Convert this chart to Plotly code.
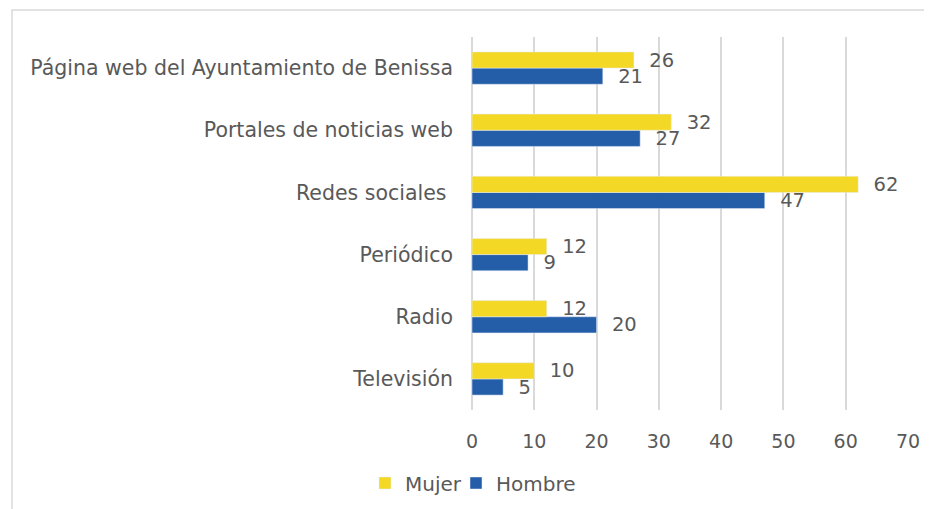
import plotly.graph_objects as go

categories = ["Página web del Ayuntamiento de Benissa", "Portales de noticias web",
              "Redes sociales ", "Periódico", "Radio", "Televisión"]
mujer = [26, 32, 62, 12, 12, 10]
hombre = [21, 27, 47, 9, 20, 5]
x_ticks = [0, 10, 20, 30, 40, 50, 60, 70]

YELLOW = "#F4D826"
BLUE = "#245EA8"
GRAY = "#595959"
FONT = "DejaVu Sans"

# page body has an 8px margin; compensate so picture matches window coordinates
OFF = 8
W, H = 932 - OFF, 509 - OFF
L, R, T, B = 472 - OFF, 908 - OFF, 37 - OFF, 410 - OFF

fig = go.Figure()
# Hombre first so it is drawn below Mujer within each group (horizontal bars)
fig.add_trace(go.Bar(
    y=categories, x=hombre, name="Hombre", orientation="h", legend="legend2",
    marker=dict(color=BLUE), text=hombre,
    texttemplate="\u00a0\u00a0%{x}", textposition="outside", constraintext="none",
    cliponaxis=False, textfont=dict(size=19.5, color=GRAY, family=FONT),
))
fig.add_trace(go.Bar(
    y=categories, x=mujer, name="Mujer", orientation="h", legend="legend",
    marker=dict(color=YELLOW), text=mujer,
    texttemplate="\u00a0\u00a0%{x}", textposition="outside", constraintext="none",
    cliponaxis=False, textfont=dict(size=19.5, color=GRAY, family=FONT),
))

pw, ph = R - L, B - T
fig.add_shape(type="rect", xref="paper", yref="paper",
              x0=(12 - OFF - L) / pw, x1=(W + 10 - L) / pw,
              y0=(B - (H + 10)) / ph, y1=(B - (10 - OFF)) / ph,
              line=dict(color="#D9D9D9", width=1.5), fillcolor="rgba(0,0,0,0)", layer="below")

leg_common = dict(orientation="h", xref="container", yref="container", xanchor="left",
                  y=1 - (483 - OFF) / H, yanchor="middle",
                  font=dict(size=20, color=GRAY, family=FONT), bgcolor="rgba(0,0,0,0)")

fig.update_layout(
    width=W, height=H,
    margin=dict(l=L, r=W - R, t=T, b=H - B, autoexpand=False),
    paper_bgcolor="white", plot_bgcolor="white",
    barmode="group", bargap=0.48, bargroupgap=0,
    font=dict(family=FONT, color=GRAY, size=18),
    showlegend=True,
    legend=dict(x=(365 - OFF) / W, **leg_common),
    legend2=dict(x=(456 - OFF) / W, **leg_common),
    xaxis=dict(range=[0, 70], tickvals=x_ticks, showgrid=True, gridcolor="#D9D9D9",
               gridwidth=1.5, zeroline=True, zerolinecolor="#D9D9D9", zerolinewidth=1.5,
               showline=False, ticks="", ticklabelstandoff=18,
               tickfont=dict(size=19, color=GRAY, family=FONT)),
    yaxis=dict(categoryorder="array", categoryarray=categories[::-1], showgrid=False,
               showline=False, ticks="", ticklabelstandoff=18,
               tickfont=dict(size=20.5, color=GRAY, family=FONT)),
)

fig.write_html("out.html")
